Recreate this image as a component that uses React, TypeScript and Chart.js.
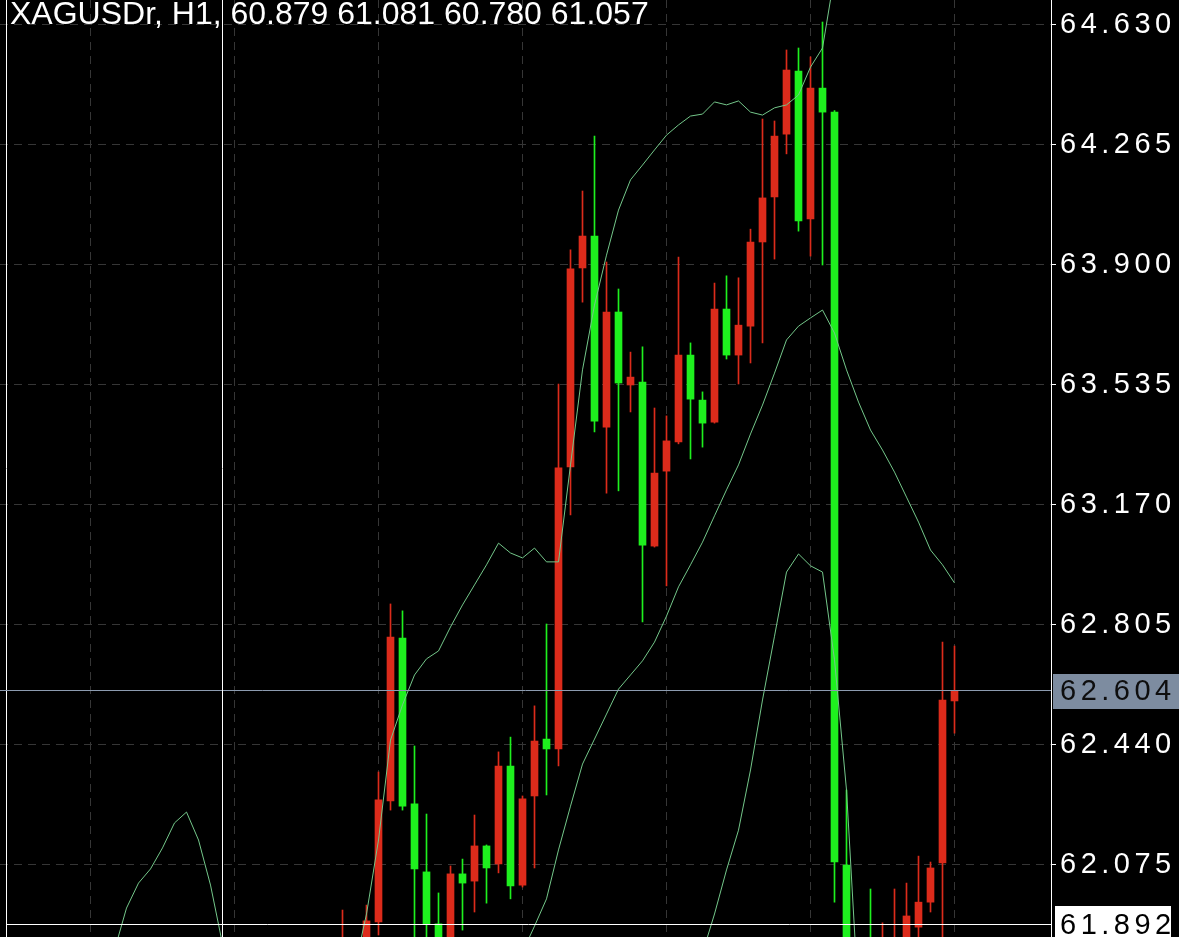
import React, { useEffect, useRef } from "react";
import { Chart, registerables } from "chart.js";

Chart.register(...registerables);

// ---------- data ----------
const TITLE = "XAGUSDr, H1, 60.879 61.081 60.780 61.057";
const PRICE_TICKS = [62.075, 62.44, 62.805, 63.17, 63.535, 63.9, 64.265, 64.63];
const TIME_GRID = [7, 19, 31, 43, 55, 67, 79];
const Y_MIN = 61.856;
const Y_MAX = 64.706;
const LAST_PRICE = 62.604;
const CROSS_PRICE = 61.892;
const CROSS_BAR = 18;

const CANDLE_START = 28;
const OPEN = [61.78, 61.84, 61.82, 61.902, 62.27, 62.765, 62.261, 62.054, 61.896, 61.83, 62.048, 62.026, 62.133, 62.078, 62.376, 62.014, 62.285, 62.458, 62.428, 63.286, 63.891, 63.988, 63.407, 63.757, 63.535, 63.544, 63.045, 63.273, 63.362, 63.626, 63.489, 63.422, 63.766, 63.626, 63.714, 63.97, 64.107, 64.298, 64.49, 64.04, 64.438, 64.365, 62.075, 61.6, 61.75, 61.6, 61.7, 61.8, 61.886, 61.962, 62.081, 62.574];
const HIGH = [61.938, 61.85, 61.953, 62.358, 62.869, 62.848, 62.437, 62.23, 61.99, 62.072, 62.093, 62.227, 62.136, 62.419, 62.464, 62.285, 62.559, 62.808, 63.538, 63.946, 64.125, 64.292, 63.909, 63.827, 63.635, 63.651, 63.465, 63.441, 63.924, 63.663, 63.514, 63.845, 63.867, 63.861, 64.009, 64.344, 64.338, 64.554, 64.56, 64.533, 64.639, 64.37, 62.303, 61.8, 62.002, 61.899, 62.002, 62.02, 62.102, 62.084, 62.753, 62.741];
const LOW = [61.74, 61.7, 61.78, 61.862, 62.242, 62.242, 61.82, 61.8, 61.78, 61.79, 61.877, 61.932, 61.959, 62.051, 61.972, 62.008, 62.066, 62.288, 62.376, 63.14, 63.787, 63.392, 63.206, 63.213, 63.453, 62.814, 63.042, 62.924, 63.356, 63.31, 63.346, 63.419, 63.614, 63.538, 63.602, 63.663, 63.918, 64.238, 64.003, 63.927, 63.9, 61.962, 61.5, 61.45, 61.55, 61.55, 61.65, 61.75, 61.85, 61.932, 61.82, 62.476];
const CLOSE = [61.84, 61.78, 61.905, 62.273, 62.768, 62.254, 62.063, 61.896, 61.83, 62.048, 62.02, 62.133, 62.066, 62.376, 62.011, 62.276, 62.452, 62.428, 63.283, 63.888, 63.988, 63.425, 63.757, 63.541, 63.559, 63.048, 63.267, 63.365, 63.626, 63.492, 63.419, 63.766, 63.626, 63.717, 63.97, 64.104, 64.292, 64.493, 64.034, 64.438, 64.365, 62.084, 61.6, 61.55, 61.65, 61.75, 61.82, 61.92, 61.962, 62.066, 62.577, 62.604];

const UPPER_START = 8;
const UPPER = [61.7, 61.816, 61.944, 62.02, 62.063, 62.127, 62.203, 62.236, 62.151, 62.014, 61.835, 61.7, 61.62, 61.58, 61.55, 61.55, 61.56, 61.58, 61.62, 61.68, 61.72, 61.76, 61.926, 62.151, 62.455, 62.562, 62.653, 62.702, 62.726, 62.799, 62.866, 62.927, 62.988, 63.054, 63.024, 63.009, 63.039, 62.997, 62.997, 63.292, 63.581, 63.778, 63.93, 64.067, 64.159, 64.204, 64.25, 64.295, 64.326, 64.353, 64.359, 64.396, 64.387, 64.399, 64.365, 64.356, 64.378, 64.387, 64.417, 64.502, 64.56, 64.78, 64.95, 65.05, 65.1, 65.12, 65.12, 65.1, 65.08, 65.05, 65.0, 64.98];
const MIDDLE_START = 38;
const MIDDLE = [61.5, 61.55, 61.6, 61.66, 61.72, 61.81, 61.889, 61.972, 62.121, 62.254, 62.382, 62.458, 62.534, 62.61, 62.653, 62.696, 62.753, 62.832, 62.921, 62.988, 63.057, 63.137, 63.216, 63.292, 63.386, 63.474, 63.571, 63.672, 63.714, 63.739, 63.763, 63.693, 63.581, 63.483, 63.398, 63.337, 63.27, 63.194, 63.118, 63.033, 62.988, 62.933];
const LOWER_START = 56;
const LOWER = [61.6, 61.7, 61.807, 61.926, 62.06, 62.181, 62.364, 62.577, 62.771, 62.966, 63.021, 62.985, 62.966, 62.699, 62.303, 61.664, 61.45, 61.3, 61.25, 61.22, 61.2, 61.2, 61.25, 61.28];

// ---------- style ----------
const W = 1179;
const H = 937;
const AXIS_W = 128;
const BAR_PX = 12;
const UP_COLOR = "#dc2b1b";
const DOWN_COLOR = "#1ef01e";
const BAND_COLOR = "#74c78a";
const GRID_COLOR = "#363636";
const FONT = '"Liberation Sans", Arial, sans-serif';

const overlay = {
  id: "mtOverlay",
  beforeDraw(chart: any) {
    const ctx = chart.ctx;
    ctx.save();
    ctx.fillStyle = "#000";
    ctx.fillRect(0, 0, chart.width, chart.height);
    ctx.restore();
    ctx.letterSpacing = "4.5px";
  },
  afterDatasetsDraw(chart: any) {
    const { ctx, chartArea, scales } = chart;
    const line = (x1: number, y1: number, x2: number, y2: number) => {
      ctx.beginPath();
      ctx.moveTo(x1, y1);
      ctx.lineTo(x2, y2);
      ctx.stroke();
    };
    ctx.save();
    ctx.lineWidth = 1;
    ctx.strokeStyle = "#ffffff";
    line(6.5, 0, 6.5, chartArea.bottom);
    const yl = Math.round(scales.y.getPixelForValue(LAST_PRICE)) - 0.5;
    ctx.strokeStyle = "#8c9bb0";
    line(0, yl, chartArea.right, yl);
    const yc = Math.round(scales.y.getPixelForValue(CROSS_PRICE)) - 0.5;
    const xc = scales.x.getPixelForValue(CROSS_BAR);
    ctx.strokeStyle = "#ffffff";
    line(6, yc, chartArea.right, yc);
    line(xc, 0, xc, chartArea.bottom);
    ctx.restore();
  },
  afterDraw(chart: any) {
    const { ctx, scales } = chart;
    ctx.save();
    ctx.font = `29px ${FONT}`;
    ctx.letterSpacing = "4.5px";
    ctx.textBaseline = "middle";
    ctx.textAlign = "left";
    const yl = Math.round(scales.y.getPixelForValue(LAST_PRICE)) - 0.5;
    ctx.fillStyle = "#7d8ca0";
    ctx.fillRect(1053, Math.round(yl - 17), 126, 35);
    ctx.fillStyle = "#0e0e0e";
    ctx.fillText(LAST_PRICE.toFixed(3), 1060, yl + 1);
    const yc = Math.round(scales.y.getPixelForValue(CROSS_PRICE)) - 0.5;
    ctx.fillStyle = "#ffffff";
    ctx.fillRect(1055, Math.round(yc - 19), 116, 40);
    ctx.fillStyle = "#000000";
    ctx.fillText(CROSS_PRICE.toFixed(3), 1060, yc + 1);
    ctx.letterSpacing = "0px";
    ctx.font = `32px ${FONT}`;
    ctx.textBaseline = "alphabetic";
    ctx.fillStyle = "#ffffff";
    ctx.fillText(TITLE, 10, 24);
    ctx.restore();
    ctx.letterSpacing = "0px";
  },
};

export default function App() {
  const ref = useRef<HTMLCanvasElement>(null);

  useEffect(() => {
    document.body.style.margin = "0";
    document.body.style.background = "#000";
    const canvas = ref.current;
    if (!canvas) return;

    const xMin = -0.5417;
    const xMax = xMin + (W - AXIS_W) / BAR_PX;
    const idx = OPEN.map((_, k) => CANDLE_START + k);
    const colors = OPEN.map((o, k) => (CLOSE[k] >= o ? UP_COLOR : DOWN_COLOR));
    const band = (start: number, vals: number[]) => vals.map((v, k) => ({ x: start + k, y: v }));
    const lineDs = (label: string, start: number, vals: number[]) => ({
      type: "line" as const,
      label,
      data: band(start, vals),
      borderColor: BAND_COLOR,
      borderWidth: 1,
      pointRadius: 0,
      tension: 0,
      fill: false,
      order: 0,
    });

    const chart = new Chart(canvas, {
      type: "bar",
      data: {
        datasets: [
          lineDs("Upper", UPPER_START, UPPER),
          lineDs("Middle", MIDDLE_START, MIDDLE),
          lineDs("Lower", LOWER_START, LOWER),
          {
            type: "bar",
            label: "Body",
            data: idx.map((x, k) => ({ x, y: [OPEN[k], CLOSE[k]] })) as any,
            backgroundColor: colors,
            borderWidth: 0,
            barThickness: 7,
            minBarLength: 1,
            grouped: false,
            order: 1,
          },
          {
            type: "bar",
            label: "Wick",
            data: idx.map((x, k) => ({ x, y: [LOW[k], HIGH[k]] })) as any,
            backgroundColor: colors,
            borderWidth: 0,
            barThickness: 1,
            grouped: false,
            order: 2,
          },
        ] as any,
      },
      options: {
        responsive: false,
        animation: false,
        devicePixelRatio: 1,
        events: [],
        layout: { padding: 0 },
        plugins: { legend: { display: false }, tooltip: { enabled: false }, title: { display: false } },
        scales: {
          x: {
            type: "linear",
            min: xMin,
            max: xMax,
            offset: false,
            afterBuildTicks: (s: any) => {
              s.ticks = TIME_GRID.map((v) => ({ value: v }));
            },
            afterFit: (s: any) => {
              s.height = 0;
              s.paddingLeft = 0;
              s.paddingRight = 0;
              s.paddingTop = 0;
              s.paddingBottom = 0;
            },
            ticks: { display: false },
            grid: { color: GRID_COLOR, lineWidth: 1, drawTicks: false, offset: false },
            border: { display: false, dash: [8, 6] },
          },
          y: {
            type: "linear",
            position: "right",
            min: Y_MIN,
            max: Y_MAX,
            afterBuildTicks: (s: any) => {
              s.ticks = PRICE_TICKS.map((v) => ({ value: v }));
            },
            afterFit: (s: any) => {
              s.width = AXIS_W;
              s.paddingTop = 0;
              s.paddingBottom = 0;
              s.paddingLeft = 0;
              s.paddingRight = 0;
            },
            ticks: {
              color: "#ffffff",
              font: { family: FONT, size: 29 },
              padding: 4,
              autoSkip: false,
              callback: (v: any) => Number(v).toFixed(3),
            },
            grid: {
              color: GRID_COLOR,
              lineWidth: 1,
              drawTicks: true,
              tickLength: 5,
              tickColor: "#ffffff",
              tickWidth: 1,
            },
            border: { display: true, color: "#ffffff", width: 1, dash: [8, 6] },
          },
        },
      } as any,
      plugins: [overlay],
    });

    return () => chart.destroy();
  }, []);

  return (
    <div style={{ position: "fixed", left: 0, top: 0, width: W, height: H, background: "#000" }}>
      <canvas ref={ref} width={W} height={H} style={{ display: "block", width: W, height: H }} />
    </div>
  );
}
